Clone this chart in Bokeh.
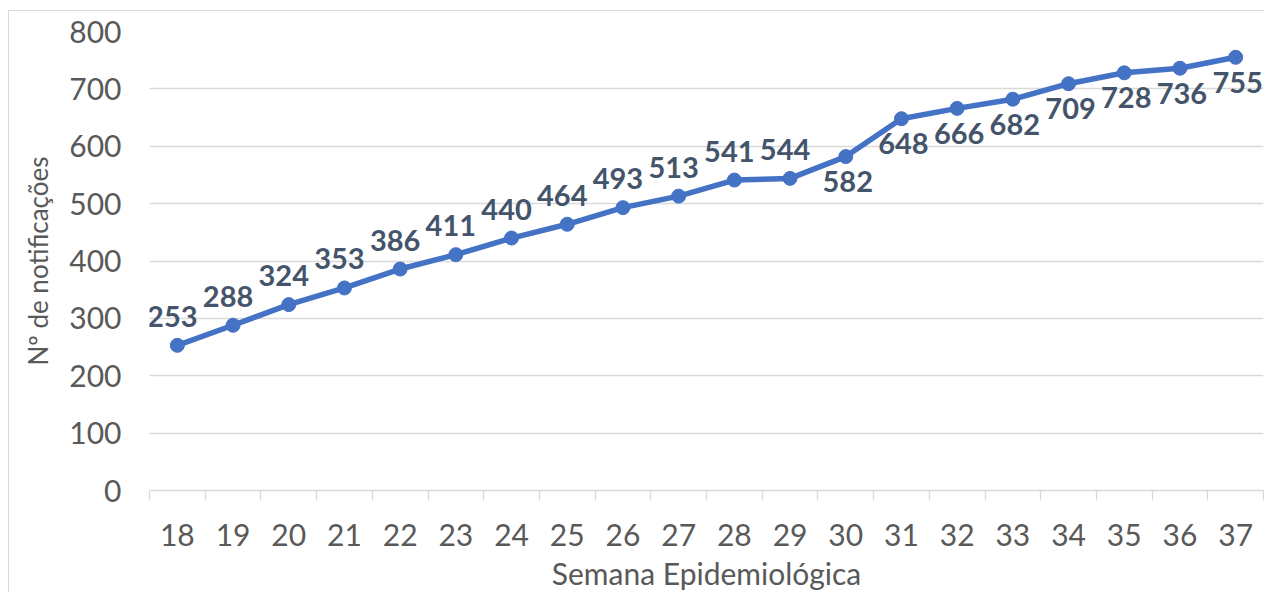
from bokeh.plotting import figure
from bokeh.models import ColumnDataSource, FixedTicker, Range1d
from bokeh.core.properties import value
from bokeh.embed import file_html
from bokeh.resources import INLINE

# ---- data ----
weeks = [18, 19, 20, 21, 22, 23, 24, 25, 26, 27, 28, 29, 30, 31, 32, 33, 34, 35, 36, 37]
notifications = [253, 288, 324, 353, 386, 411, 440, 464, 493, 513, 541, 544,
                 582, 648, 666, 682, 709, 728, 736, 755]
y_ticks = [0, 100, 200, 300, 400, 500, 600, 700, 800]
x_title = "Semana Epidemiológica"
y_title = "Nº de notificações"

FONT = "Lato"
LINE_COLOR = "#4472C4"
LABEL_COLOR = "#44546A"
AXIS_TEXT = "#595959"
GRID = "#D9D9D9"

src = ColumnDataSource(dict(week=weeks, value=notifications,
                            label=[str(v) for v in notifications]))
above = [i for i, w in enumerate(weeks) if w < 30]
below = [i for i, w in enumerate(weeks) if w >= 30]
src_above = ColumnDataSource(dict(week=[weeks[i] for i in above],
                                  value=[notifications[i] for i in above],
                                  label=[str(notifications[i]) for i in above]))
src_below = ColumnDataSource(dict(week=[weeks[i] for i in below],
                                  value=[notifications[i] for i in below],
                                  label=[str(notifications[i]) for i in below]))

p = figure(width=1256, height=582, output_backend="svg", toolbar_location=None,
           x_range=Range1d(weeks[0] - 0.5, weeks[-1] + 0.5),
           y_range=Range1d(y_ticks[0], y_ticks[-1]),
           min_border_left=140, min_border_right=2, min_border_top=20,
           min_border_bottom=99)
p.styles = {"margin-left": "8px", "margin-top": "10px",
            "border-left": "1px solid #D9D9D9", "border-top": "1px solid #D9D9D9"}
p.outline_line_color = None
p.background_fill_color = "white"
p.border_fill_color = "white"

# grid
p.xgrid.grid_line_color = None
p.ygrid.grid_line_color = GRID
p.ygrid.grid_line_width = 1.3

# x axis
p.xaxis.ticker = FixedTicker(ticks=weeks,
                             minor_ticks=[w - 0.5 for w in weeks] + [weeks[-1] + 0.5])
p.xaxis.axis_line_color = GRID
p.xaxis.axis_line_width = 1.3
p.xaxis.major_tick_line_color = None
p.xaxis.major_tick_out = 0
p.xaxis.major_tick_in = 0
p.xaxis.minor_tick_line_color = GRID
p.xaxis.minor_tick_line_width = 1.3
p.xaxis.minor_tick_out = 10
p.xaxis.minor_tick_in = 0
p.xaxis.major_label_standoff = 23
p.xaxis.axis_label = x_title
p.xaxis.axis_label_standoff = 6
p.xaxis.axis_label_text_font_size = "30px"

# y axis
p.yaxis.ticker = FixedTicker(ticks=y_ticks)
p.yaxis.axis_line_color = None
p.yaxis.major_tick_line_color = None
p.yaxis.minor_tick_line_color = None
p.yaxis.major_tick_out = 0
p.yaxis.major_label_standoff = 28
p.yaxis.axis_label = y_title
p.yaxis.axis_label_standoff = 12
p.yaxis.axis_label_text_font_size = "26px"

for ax in (p.xaxis, p.yaxis):
    ax.major_label_text_font = FONT
    ax.major_label_text_font_size = "30px"
    ax.major_label_text_color = AXIS_TEXT
    ax.axis_label_text_font = FONT
    ax.axis_label_text_font_style = "normal"
    ax.axis_label_text_color = AXIS_TEXT

# series
p.line(x="week", y="value", source=src, line_color=LINE_COLOR, line_width=5.5)
p.scatter(x="week", y="value", source=src, size=14, fill_color=LINE_COLOR,
          line_color=LINE_COLOR)

common = dict(text_font=value(FONT), text_font_style="bold", text_font_size="29px",
              text_color=LABEL_COLOR, text_align="center", text_baseline="middle")
p.text(x="week", y="value", text="label", source=src_above,
       x_offset=-5, y_offset=-29, **common)
p.text(x="week", y="value", text="label", source=src_below,
       x_offset=2, y_offset=25, **common)

open("out.html", "w").write(file_html(p, INLINE))
